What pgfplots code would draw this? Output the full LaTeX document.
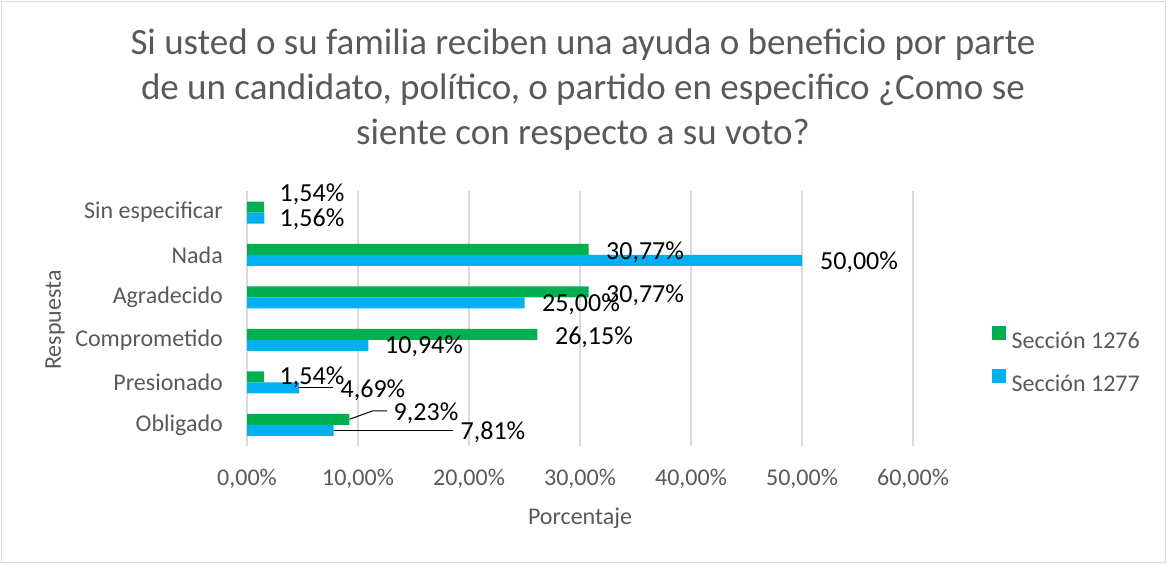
\documentclass[border=0pt]{standalone}
\usepackage{fontspec}
\setmainfont{Carlito}
\usepackage{pgfplots}
\pgfplotsset{compat=1.18}
\definecolor{gA}{HTML}{00B050}
\definecolor{bB}{HTML}{00B0F0}
\definecolor{txt}{HTML}{595959}
\definecolor{gridc}{HTML}{D9D9D9}
\begin{document}
\begin{tikzpicture}
\useasboundingbox (0,0) rectangle (1167bp,-564bp);
\draw[gridc, line width=1.5bp] (1.5bp,-1.5bp) rectangle (1165.5bp,-562.5bp);
\begin{axis}[
  at={(247bp,-446bp)}, anchor=south west,
  scale only axis, width=666bp, height=254.7bp,
  xmin=0, xmax=60, ymin=-0.5, ymax=5.5,
  xtick={0,10,...,60},
  xticklabels={{0,00\%},{10,00\%},{20,00\%},{30,00\%},{40,00\%},{50,00\%},{60,00\%}},
  ytick={0,...,5},
  yticklabels={Obligado,Presionado,Comprometido,Agradecido,Nada,Sin especificar},
  major tick length=0pt,
  xmajorgrids, grid style={gridc, line width=1.5bp},
  axis x line*=bottom, axis y line*=left,
  x axis line style={draw=none},
  y axis line style={draw=gridc, line width=1.5bp, -},
  ticklabel style={font=\fontsize{24bp}{29bp}\selectfont, text=txt},
  xticklabel style={anchor=center, inner sep=0pt, yshift=-33bp},
  yticklabel style={anchor=east, inner sep=0pt, xshift=-24bp},
  xlabel={Porcentaje}, ylabel={Respuesta},
  xlabel style={at={(axis description cs:0.5,-0.285)}, anchor=center, inner sep=0pt, font=\fontsize{24bp}{29bp}\selectfont, text=txt},
  ylabel style={at={(axis description cs:-0.2880,0.495)}, anchor=center, inner sep=0pt, font=\fontsize{24bp}{29bp}\selectfont, text=txt},
  title={Si usted o su familia reciben una ayuda o beneficio por parte\\de un candidato, político, o partido en especifico ¿Como se\\siente con respecto a su voto?},
  title style={at={(axis description cs:0.5045,1.375)}, anchor=center, align=center, inner sep=0pt, font=\fontsize{37bp}{45bp}\selectfont, text=txt},
  legend style={at={(axis description cs:1.1182,0.472)}, anchor=north west, draw=none, fill=none, inner sep=0pt, outer sep=0pt, column sep=6bp, row sep=20bp,
    nodes={inner sep=0pt, text height=18bp, text depth=0bp, text=txt, font=\fontsize{24bp}{29bp}\selectfont}},
  legend cell align=left,
  legend image code/.code={\fill[#1] (0bp,0bp) rectangle (14bp,14bp);},
]
\addplot[xbar, bar width=11bp, bar shift=5.5bp, fill=gA, draw=none] coordinates {
 (9.23,0) (1.54,1) (26.15,2) (30.77,3) (30.77,4) (1.54,5)};
\addlegendentry{Sección 1276}
\addplot[xbar, bar width=11bp, bar shift=-5.5bp, fill=bB, draw=none] coordinates {
 (7.81,0) (4.69,1) (10.94,2) (25.00,3) (50.00,4) (1.56,5)};
\addlegendentry{Sección 1277}
% leader lines
\addplot[black, line width=1bp, forget plot] coordinates {(9.23,0.13) (11.35,0.33) (12.61,0.33)};
\addplot[black, line width=1bp, forget plot] coordinates {(7.81,-0.13) (18.56,-0.13)};
\addplot[black, line width=1bp, forget plot] coordinates {(4.69,0.87) (7.75,0.87)};
% data labels
\addplot[only marks, mark=none, forget plot, point meta=explicit symbolic,
  nodes near coords, nodes near coords style={anchor=center, inner sep=0pt, text=black, font=\fontsize{26bp}{31bp}\selectfont}]
  table[meta=lab] {
x y lab
5.86 5.42 1,54\%
5.86 4.85 1,56\%
35.86 4.075 30,77\%
55.14 3.82 50,00\%
35.86 3.06 30,77\%
30.09 2.83 25,00\%
31.26 2.07 26,15\%
15.95 1.84 10,94\%
5.86 1.11 1,54\%
11.35 0.82 4,69\%
16.13 0.26 9,23\%
22.16 -0.165 7,81\%
};
\end{axis}
\end{tikzpicture}
\end{document}
